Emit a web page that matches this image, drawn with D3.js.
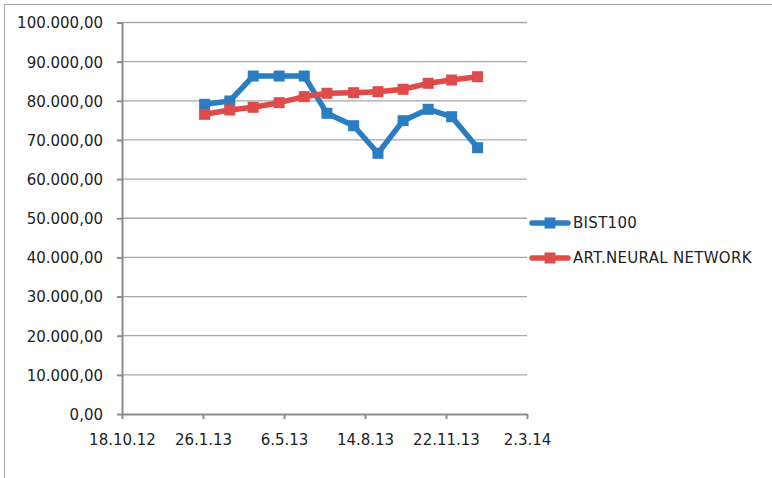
<!DOCTYPE html>
<html>
<head>
<meta charset="utf-8">
<script src="https://cdn.jsdelivr.net/npm/d3@7"></script>
<style>
  body { margin: 0; background: #fff; }
  text { font-family: "DejaVu Sans", Verdana, sans-serif; font-size: 15px; fill: #222; }
</style>
</head>
<body>
<div id="chart"></div>
<script>
// Data (monthly, 2013).
const dates = ["2013-01-28", "2013-02-28", "2013-03-29", "2013-04-30", "2013-05-31", "2013-06-28",
               "2013-07-31", "2013-08-30", "2013-09-30", "2013-10-31", "2013-11-29", "2013-12-31"];
const bist100 = [79100, 79950, 86330, 86330, 86330, 76800, 73640, 66590, 74920, 77830, 75940, 68020];
const ann = [76550, 77650, 78340, 79520, 81050, 81920, 82070, 82330, 82940, 84470, 85310, 86150];
const seriesNames = ["BIST100", "ART.NEURAL NETWORK"];
const seriesColors = ["#2a7dc1", "#df4a4a"];
const yTicks = [0, 10000, 20000, 30000, 40000, 50000, 60000, 70000, 80000, 90000, 100000];
const xTickDates = ["2012-10-18", "2013-01-26", "2013-05-06", "2013-08-14", "2013-11-22", "2014-03-02"];

const W = 772, H = 478;
const margin = { top: 22.5, right: 245, bottom: 64, left: 122 };
const width = W - margin.left - margin.right,
      height = H - margin.top - margin.bottom;

const parse = d3.timeParse("%Y-%m-%d");

const svg = d3.select("#chart").append("svg")
    .attr("width", W)
    .attr("height", H);

// outer chart border (runs off right and bottom)
svg.append("rect")
    .attr("x", 4.5).attr("y", 4.5)
    .attr("width", W + 20).attr("height", H + 20)
    .attr("fill", "none")
    .attr("stroke", "#a6a6a6");

const g = svg.append("g")
    .attr("transform", "translate(" + margin.left + "," + margin.top + ")");

// Scales
let x = d3.scaleTime()
    .domain([parse(xTickDates[0]), parse(xTickDates[xTickDates.length - 1])])
    .range([0, width]);

let y = d3.scaleLinear()
    .domain([0, 100000])
    .range([height, 0]);

// gridlines
g.append("g")
    .selectAll("line")
    .data(yTicks.slice(1))
    .join("line")
    .attr("x1", 0).attr("x2", width)
    .attr("y1", d => y(d)).attr("y2", d => y(d))
    .attr("stroke", "#a6a6a6")
    .attr("stroke-width", 1.3);

// y-axis
const fmtY = d3.formatLocale({ decimal: ",", thousands: ".", grouping: [3], currency: ["", ""] }).format(",.2f");
let yAxis = d3.axisLeft(y)
    .tickValues(yTicks)
    .tickFormat(fmtY)
    .tickSize(5)
    .tickSizeOuter(0)
    .tickPadding(14);
const yAxisEl = g.append("g").call(yAxis);

// x-axis
let xAxis = d3.axisBottom(x)
    .tickValues(xTickDates.map(parse))
    .tickFormat(d3.timeFormat("%-d.%-m.%y"))
    .tickSize(5)
    .tickSizeOuter(0)
    .tickPadding(15);
const xAxisEl = g.append("g")
    .attr("transform", "translate(0," + height + ")")
    .call(xAxis);

[yAxisEl, xAxisEl].forEach(a => {
    a.select(".domain").attr("stroke", "#8c8c8c").attr("stroke-width", 2);
    a.selectAll(".tick line").attr("stroke", "#8c8c8c").attr("stroke-width", 2);
    a.selectAll(".tick text").attr("fill", "#222");
});
yAxisEl.selectAll(".tick text").attr("dy", "0.36em");

// series
const series = [bist100, ann].map((vals, i) => ({
    name: seriesNames[i],
    color: seriesColors[i],
    points: vals.map((v, j) => ({ date: parse(dates[j]), value: v }))
}));

const line = d3.line()
    .x(d => x(d.date))
    .y(d => y(d.value));

const mk = 11;
const sg = g.append("g").selectAll("g.series")
    .data(series)
    .join("g")
    .attr("class", "series");

sg.append("path")
    .attr("d", d => line(d.points))
    .attr("fill", "none")
    .attr("stroke", d => d.color)
    .attr("stroke-width", 5.5)
    .attr("stroke-linejoin", "round")
    .attr("stroke-linecap", "round");

sg.selectAll("rect")
    .data(d => d.points.map(p => ({ p: p, color: d.color })))
    .join("rect")
    .attr("x", d => x(d.p.date) - mk / 2)
    .attr("y", d => y(d.p.value) - mk / 2)
    .attr("width", mk).attr("height", mk)
    .attr("fill", d => d.color);

// legend
const legend = svg.append("g")
    .attr("transform", "translate(532,223)");
const li = legend.selectAll("g")
    .data(series)
    .join("g")
    .attr("transform", (d, i) => "translate(0," + (i * 35) + ")");
li.append("line")
    .attr("x1", 0).attr("x2", 36)
    .attr("stroke", d => d.color)
    .attr("stroke-width", 5.5)
    .attr("stroke-linecap", "round");
li.append("rect")
    .attr("x", 18 - mk / 2).attr("y", -mk / 2)
    .attr("width", mk).attr("height", mk)
    .attr("fill", d => d.color);
li.append("text")
    .attr("x", 41)
    .attr("dy", "0.36em")
    .style("letter-spacing", "0.3px")
    .text(d => d.name);
</script>
</body>
</html>
